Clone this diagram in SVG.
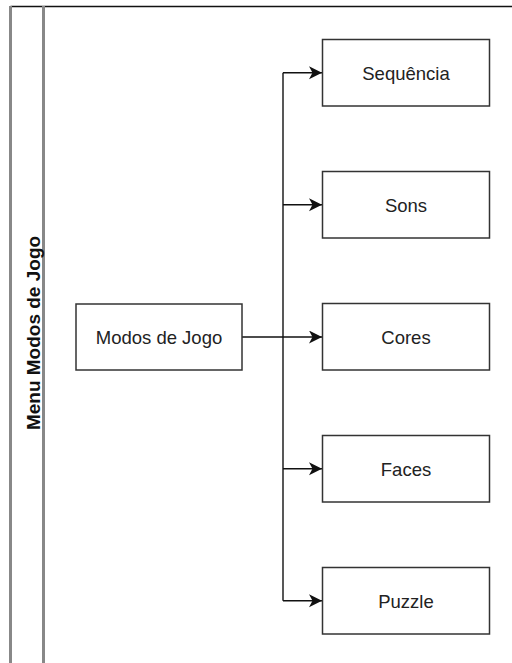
<svg xmlns="http://www.w3.org/2000/svg" width="512" height="663" viewBox="0 0 512 663">
<style>
.box{fill:#fff;stroke:#333;stroke-width:1.5}
.lbl{font-family:"Liberation Sans",Arial,sans-serif;font-size:18.5px;fill:#222;text-anchor:middle}
.lane{font-family:"Liberation Sans",Arial,sans-serif;font-size:19px;font-weight:bold;fill:#111;text-anchor:middle}
.edge{fill:none;stroke:#111;stroke-width:1.4}
</style>
<defs>
<marker id="ah" markerUnits="userSpaceOnUse" markerWidth="16" markerHeight="16" refX="13" refY="6.5" orient="auto">
<path d="M0,0 L13,6.5 L0,13 L3.5,6.5 Z" fill="#111"/>
</marker>
</defs>
<rect width="512" height="663" fill="#fff"/>
<g id="lane">
<line x1="10.5" y1="6.5" x2="512" y2="6.5" stroke="#111" stroke-width="1.3"/>
<line x1="10.5" y1="6" x2="10.5" y2="663" stroke="#888" stroke-width="3"/>
<line x1="43.5" y1="6" x2="43.5" y2="663" stroke="#888" stroke-width="3"/>
<text class="lane" transform="translate(33,333) rotate(-90)" y="6.5">Menu Modos de Jogo</text>
</g>
<g id="connectors">
<path class="edge" d="M242,337 L322,337" marker-end="url(#ah)"/>
<path class="edge" d="M283,72.75 L283,600.75"/>
<path class="edge" d="M283,72.75 L322,72.75" marker-end="url(#ah)"/>
<path class="edge" d="M283,204.75 L322,204.75" marker-end="url(#ah)"/>
<path class="edge" d="M283,468.75 L322,468.75" marker-end="url(#ah)"/>
<path class="edge" d="M283,600.75 L322,600.75" marker-end="url(#ah)"/>
</g>
<g id="modos">
<rect class="box" x="76" y="304" width="166" height="66"/>
<text class="lbl" x="159" y="344">Modos de Jogo</text>
</g>
<g id="sequencia">
<rect class="box" x="322.5" y="39.5" width="167" height="66.5"/>
<text class="lbl" x="406" y="79.5">Sequência</text>
</g>
<g id="sons">
<rect class="box" x="322.5" y="171.5" width="167" height="66.5"/>
<text class="lbl" x="406" y="211.5">Sons</text>
</g>
<g id="cores">
<rect class="box" x="322.5" y="303.5" width="167" height="66.5"/>
<text class="lbl" x="406" y="343.5">Cores</text>
</g>
<g id="faces">
<rect class="box" x="322.5" y="435.5" width="167" height="66.5"/>
<text class="lbl" x="406" y="475.5">Faces</text>
</g>
<g id="puzzle">
<rect class="box" x="322.5" y="567.5" width="167" height="66.5"/>
<text class="lbl" x="406" y="607.5">Puzzle</text>
</g>
</svg>
